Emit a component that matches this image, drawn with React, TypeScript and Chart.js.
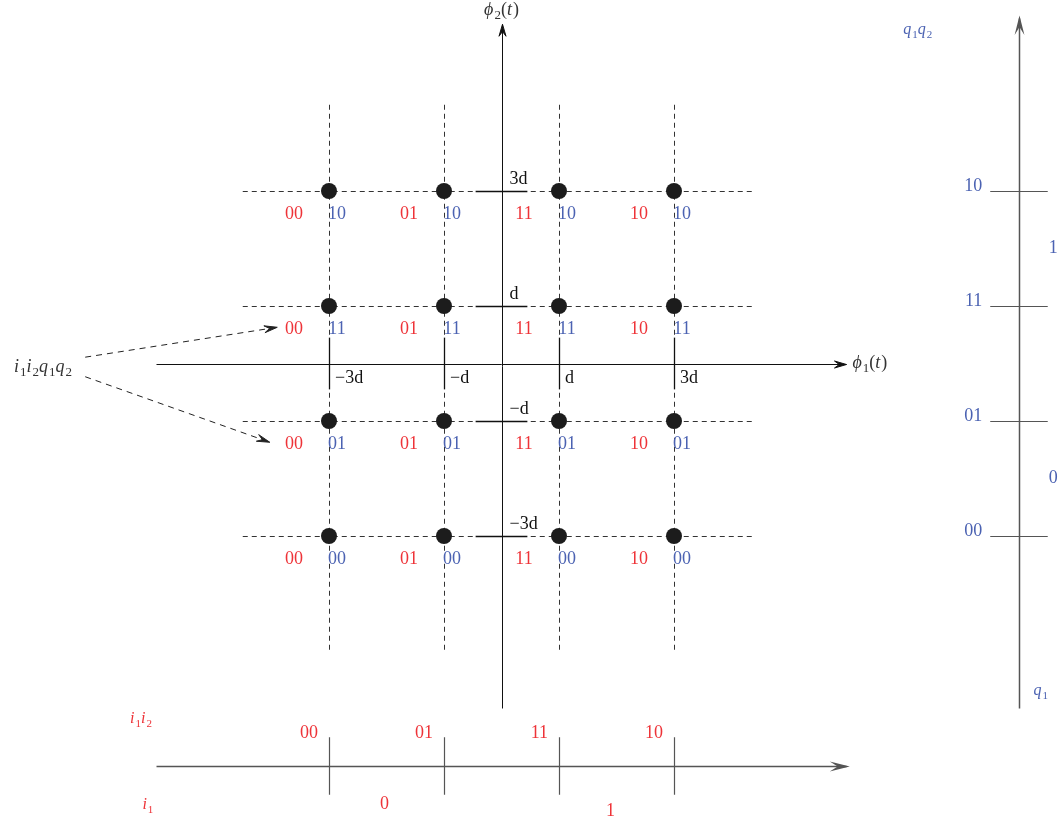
import { useEffect, useRef } from 'react';
import { Chart, registerables } from 'chart.js';

Chart.register(...registerables);

// 16-QAM constellation with Gray-coded bit labels (amplitude levels in units of d)
const levels = [-3, -1, 1, 3];
const iBits = ['00', '01', '11', '10']; // i1i2 for each in-phase level
const qBits = ['00', '01', '11', '10']; // q1q2 for each quadrature level
const axisTickLabels = ['−3d', '−d', 'd', '3d'];
const halfLevels = [-2, 2];
const firstBits = ['0', '1']; // i1 / q1 on each half of the axis

const RED = '#ee3338';
const BLUE = '#4b62b2';
const SERIF = '"Liberation Serif", "DejaVu Serif", serif';

type Seg = { t: string; it?: boolean; sub?: boolean };

function drawRich(
  ctx: CanvasRenderingContext2D,
  segs: Seg[],
  x: number,
  y: number,
  align: 'left' | 'center' | 'right',
  size: number,
  color: string
) {
  const fontFor = (s: Seg) =>
    `${s.it ? 'italic ' : ''}${s.sub ? Math.round(size * 0.7) : size}px ${SERIF}`;
  let total = 0;
  const widths = segs.map((s) => {
    ctx.font = fontFor(s);
    const w = ctx.measureText(s.t).width + (s.it && !s.sub ? 1 : 0);
    total += w;
    return w;
  });
  let cx = align === 'left' ? x : align === 'center' ? x - total / 2 : x - total;
  ctx.fillStyle = color;
  ctx.textAlign = 'left';
  ctx.textBaseline = 'middle';
  segs.forEach((s, i) => {
    ctx.font = fontFor(s);
    ctx.fillText(s.t, cx, s.sub ? y + size * 0.3 : y);
    cx += widths[i];
  });
}

function openArrow(ctx: CanvasRenderingContext2D, x0: number, y0: number, x1: number, y1: number, len = 12, half = 4) {
  const a = Math.atan2(y1 - y0, x1 - x0);
  const ux = Math.cos(a), uy = Math.sin(a);
  const bx = x1 - ux * len, by = y1 - uy * len;
  ctx.save();
  ctx.setLineDash([]);
  ctx.beginPath();
  ctx.moveTo(bx - uy * half, by + ux * half);
  ctx.lineTo(x1, y1);
  ctx.lineTo(bx + uy * half, by - ux * half);
  ctx.lineTo(x1 - ux * len * 0.6, y1 - uy * len * 0.6);
  ctx.closePath();
  ctx.fill();
  ctx.stroke();
  ctx.restore();
}

// snap axis-parallel strokes to the pixel grid so 1px lines stay crisp
const snap = (v: number) => Math.round(v) + 0.5;

function line(ctx: CanvasRenderingContext2D, x0: number, y0: number, x1: number, y1: number) {
  if (x0 === x1) { x0 = x1 = snap(x0); }
  if (y0 === y1) { y0 = y1 = snap(y0); }
  ctx.beginPath();
  ctx.moveTo(x0, y0);
  ctx.lineTo(x1, y1);
  ctx.stroke();
}

const diagramPlugin = {
  id: 'qamDiagram',
  beforeDatasetsDraw(chart: any) {
    const { ctx } = chart;
    const xs = chart.scales.x;
    const ys = chart.scales.y;
    const X = (v: number) => xs.getPixelForValue(v);
    const Y = (v: number) => ys.getPixelForValue(v);
    ctx.save();

    // dashed grid through the constellation levels
    ctx.strokeStyle = '#333';
    ctx.lineWidth = 1;
    ctx.setLineDash([5, 4]);
    levels.forEach((l) => {
      line(ctx, X(-4.5), Y(l), X(4.4), Y(l));
      line(ctx, X(l), Y(4.5), X(l), Y(-5));
    });
    // annotation pointers
    ctx.setLineDash([6, 5]);
    ctx.strokeStyle = '#222';
    line(ctx, X(-7.24), Y(0.11), X(-3.9), Y(0.63));
    line(ctx, X(-7.24), Y(-0.23), X(-4.03), Y(-1.37));
    ctx.fillStyle = '#222';
    openArrow(ctx, X(-7.24), Y(0.11), X(-3.9), Y(0.63), 13, 3.5);
    openArrow(ctx, X(-7.24), Y(-0.23), X(-4.03), Y(-1.37), 13, 3.5);

    // solid tick marks on both signal axes
    ctx.setLineDash([]);
    ctx.strokeStyle = '#111';
    ctx.lineWidth = 1.3;
    levels.forEach((l) => {
      line(ctx, X(-0.45), Y(l), X(0.45), Y(l));
      line(ctx, X(l), Y(0.45), X(l), Y(-0.45));
    });

    // phi1 / phi2 axes
    ctx.lineWidth = 1;
    ctx.strokeStyle = '#111';
    ctx.fillStyle = '#111';
    line(ctx, X(-6), Y(0), X(6), Y(0));
    line(ctx, X(0), Y(-6), X(0), Y(5.9));
    openArrow(ctx, X(-6), snap(Y(0)), X(6), snap(Y(0)), 12, 3.5);
    openArrow(ctx, snap(X(0)), Y(-6), snap(X(0)), Y(5.9), 12, 3.5);

    // q1q2 axis on the right
    ctx.strokeStyle = '#555';
    ctx.fillStyle = '#555';
    ctx.lineWidth = 1.5;
    line(ctx, X(9), Y(-6), X(9), Y(6));
    openArrow(ctx, snap(X(9)), Y(-6), snap(X(9)), Y(6), 12, 3);
    ctx.lineWidth = 1.2;
    levels.forEach((l) => line(ctx, X(8.5), Y(l), X(9.5), Y(l)));

    // i1i2 axis at the bottom
    ctx.lineWidth = 1.6;
    line(ctx, X(-6), Y(-7), X(6), Y(-7));
    openArrow(ctx, X(-6), snap(Y(-7)), X(6), snap(Y(-7)), 12, 3);
    ctx.lineWidth = 1.2;
    levels.forEach((l) => line(ctx, X(l), Y(-6.5), X(l), Y(-7.5)));

    ctx.restore();
  },
  afterDatasetsDraw(chart: any) {
    const { ctx } = chart;
    const xs = chart.scales.x;
    const ys = chart.scales.y;
    const X = (v: number) => xs.getPixelForValue(v);
    const Y = (v: number) => ys.getPixelForValue(v);
    const size = 18;
    ctx.save();

    // bit labels under each constellation point
    levels.forEach((ly, r) => {
      levels.forEach((lx, c) => {
        drawRich(ctx, [{ t: iBits[c] }], X(lx) - 35, Y(ly) + 23, 'center', size, RED);
        drawRich(ctx, [{ t: qBits[r] }], X(lx) + 8, Y(ly) + 23, 'center', size, BLUE);
      });
    });

    // tick labels on phi1 / phi2
    levels.forEach((l, k) => {
      drawRich(ctx, [{ t: axisTickLabels[k] }], X(l) + 6, Y(0) + 15, 'left', size, '#111');
      drawRich(ctx, [{ t: axisTickLabels[k] }], X(0) + 8, Y(l) - 12, 'left', size, '#111');
    });

    drawRich(ctx, [{ t: 'ϕ', it: true }, { t: '1', sub: true }, { t: '(' }, { t: 't', it: true }, { t: ')' }], X(6) + 6, Y(0), 'left', size, '#333');
    drawRich(ctx, [{ t: 'ϕ', it: true }, { t: '2', sub: true }, { t: '(' }, { t: 't', it: true }, { t: ')' }], X(0), Y(5.9) - 14, 'center', size, '#333');

    drawRich(
      ctx,
      [{ t: 'i', it: true }, { t: '1', sub: true }, { t: 'i', it: true }, { t: '2', sub: true }, { t: 'q', it: true }, { t: '1', sub: true }, { t: 'q', it: true }, { t: '2', sub: true }],
      X(-7.47), Y(-0.06), 'right', size, '#333'
    );

    // right-hand q1q2 axis labels
    drawRich(ctx, [{ t: 'q', it: true }, { t: '1', sub: true }, { t: 'q', it: true }, { t: '2', sub: true }], X(7.24), Y(5.8), 'center', 16, BLUE);
    levels.forEach((l, r) => {
      drawRich(ctx, [{ t: qBits[r] }], X(8.5) - 8, Y(l) - 5, 'right', size, BLUE);
    });
    halfLevels.forEach((l, k) => {
      drawRich(ctx, [{ t: firstBits[k] }], X(9.5) + 1, Y(l), 'left', size, BLUE);
    });
    drawRich(ctx, [{ t: 'q', it: true }, { t: '1', sub: true }], X(9.38), Y(-5.7), 'center', 16, BLUE);

    // bottom i1i2 axis labels
    drawRich(ctx, [{ t: 'i', it: true }, { t: '1', sub: true }, { t: 'i', it: true }, { t: '2', sub: true }], X(-6.27), Y(-6.18), 'center', 16, RED);
    levels.forEach((l, c) => {
      drawRich(ctx, [{ t: iBits[c] }], X(l) - 11, Y(-7) - 33, 'right', size, RED);
    });
    halfLevels.forEach((l, k) => {
      drawRich(ctx, [{ t: firstBits[k] }], X(l) + (k === 0 ? -2 : -6), Y(-7) + (k === 0 ? 38 : 45), 'center', size, RED);
    });
    drawRich(ctx, [{ t: 'i', it: true }, { t: '1', sub: true }], X(-6.15), Y(-7.68), 'center', 16, RED);

    ctx.restore();
  },
};

export default function App() {
  const ref = useRef<HTMLCanvasElement | null>(null);

  useEffect(() => {
    if (!ref.current) return;
    const points = levels.flatMap((y) => levels.map((x) => ({ x, y })));
    const chart = new Chart(ref.current, {
      type: 'scatter',
      data: {
        datasets: [
          {
            data: points,
            pointRadius: 8,
            pointHoverRadius: 8,
            pointBackgroundColor: '#1c1c1c',
            pointBorderColor: '#1c1c1c',
            pointBorderWidth: 0,
          },
        ],
      },
      options: {
        responsive: false,
        animation: false,
        layout: { padding: 0, autoPadding: false },
        events: [],
        plugins: { legend: { display: false }, tooltip: { enabled: false } },
        scales: {
          x: { type: 'linear', display: false, min: -8.722, max: 9.748 },
          y: { type: 'linear', display: false, min: -7.974, max: 6.322 },
        },
      },
      plugins: [diagramPlugin],
    });
    return () => chart.destroy();
  }, []);

  return (
    <div style={{ position: 'absolute', left: 0, top: 0, width: 1062, height: 822, background: '#fff' }}>
      <canvas ref={ref} width={1062} height={822} />
    </div>
  );
}
